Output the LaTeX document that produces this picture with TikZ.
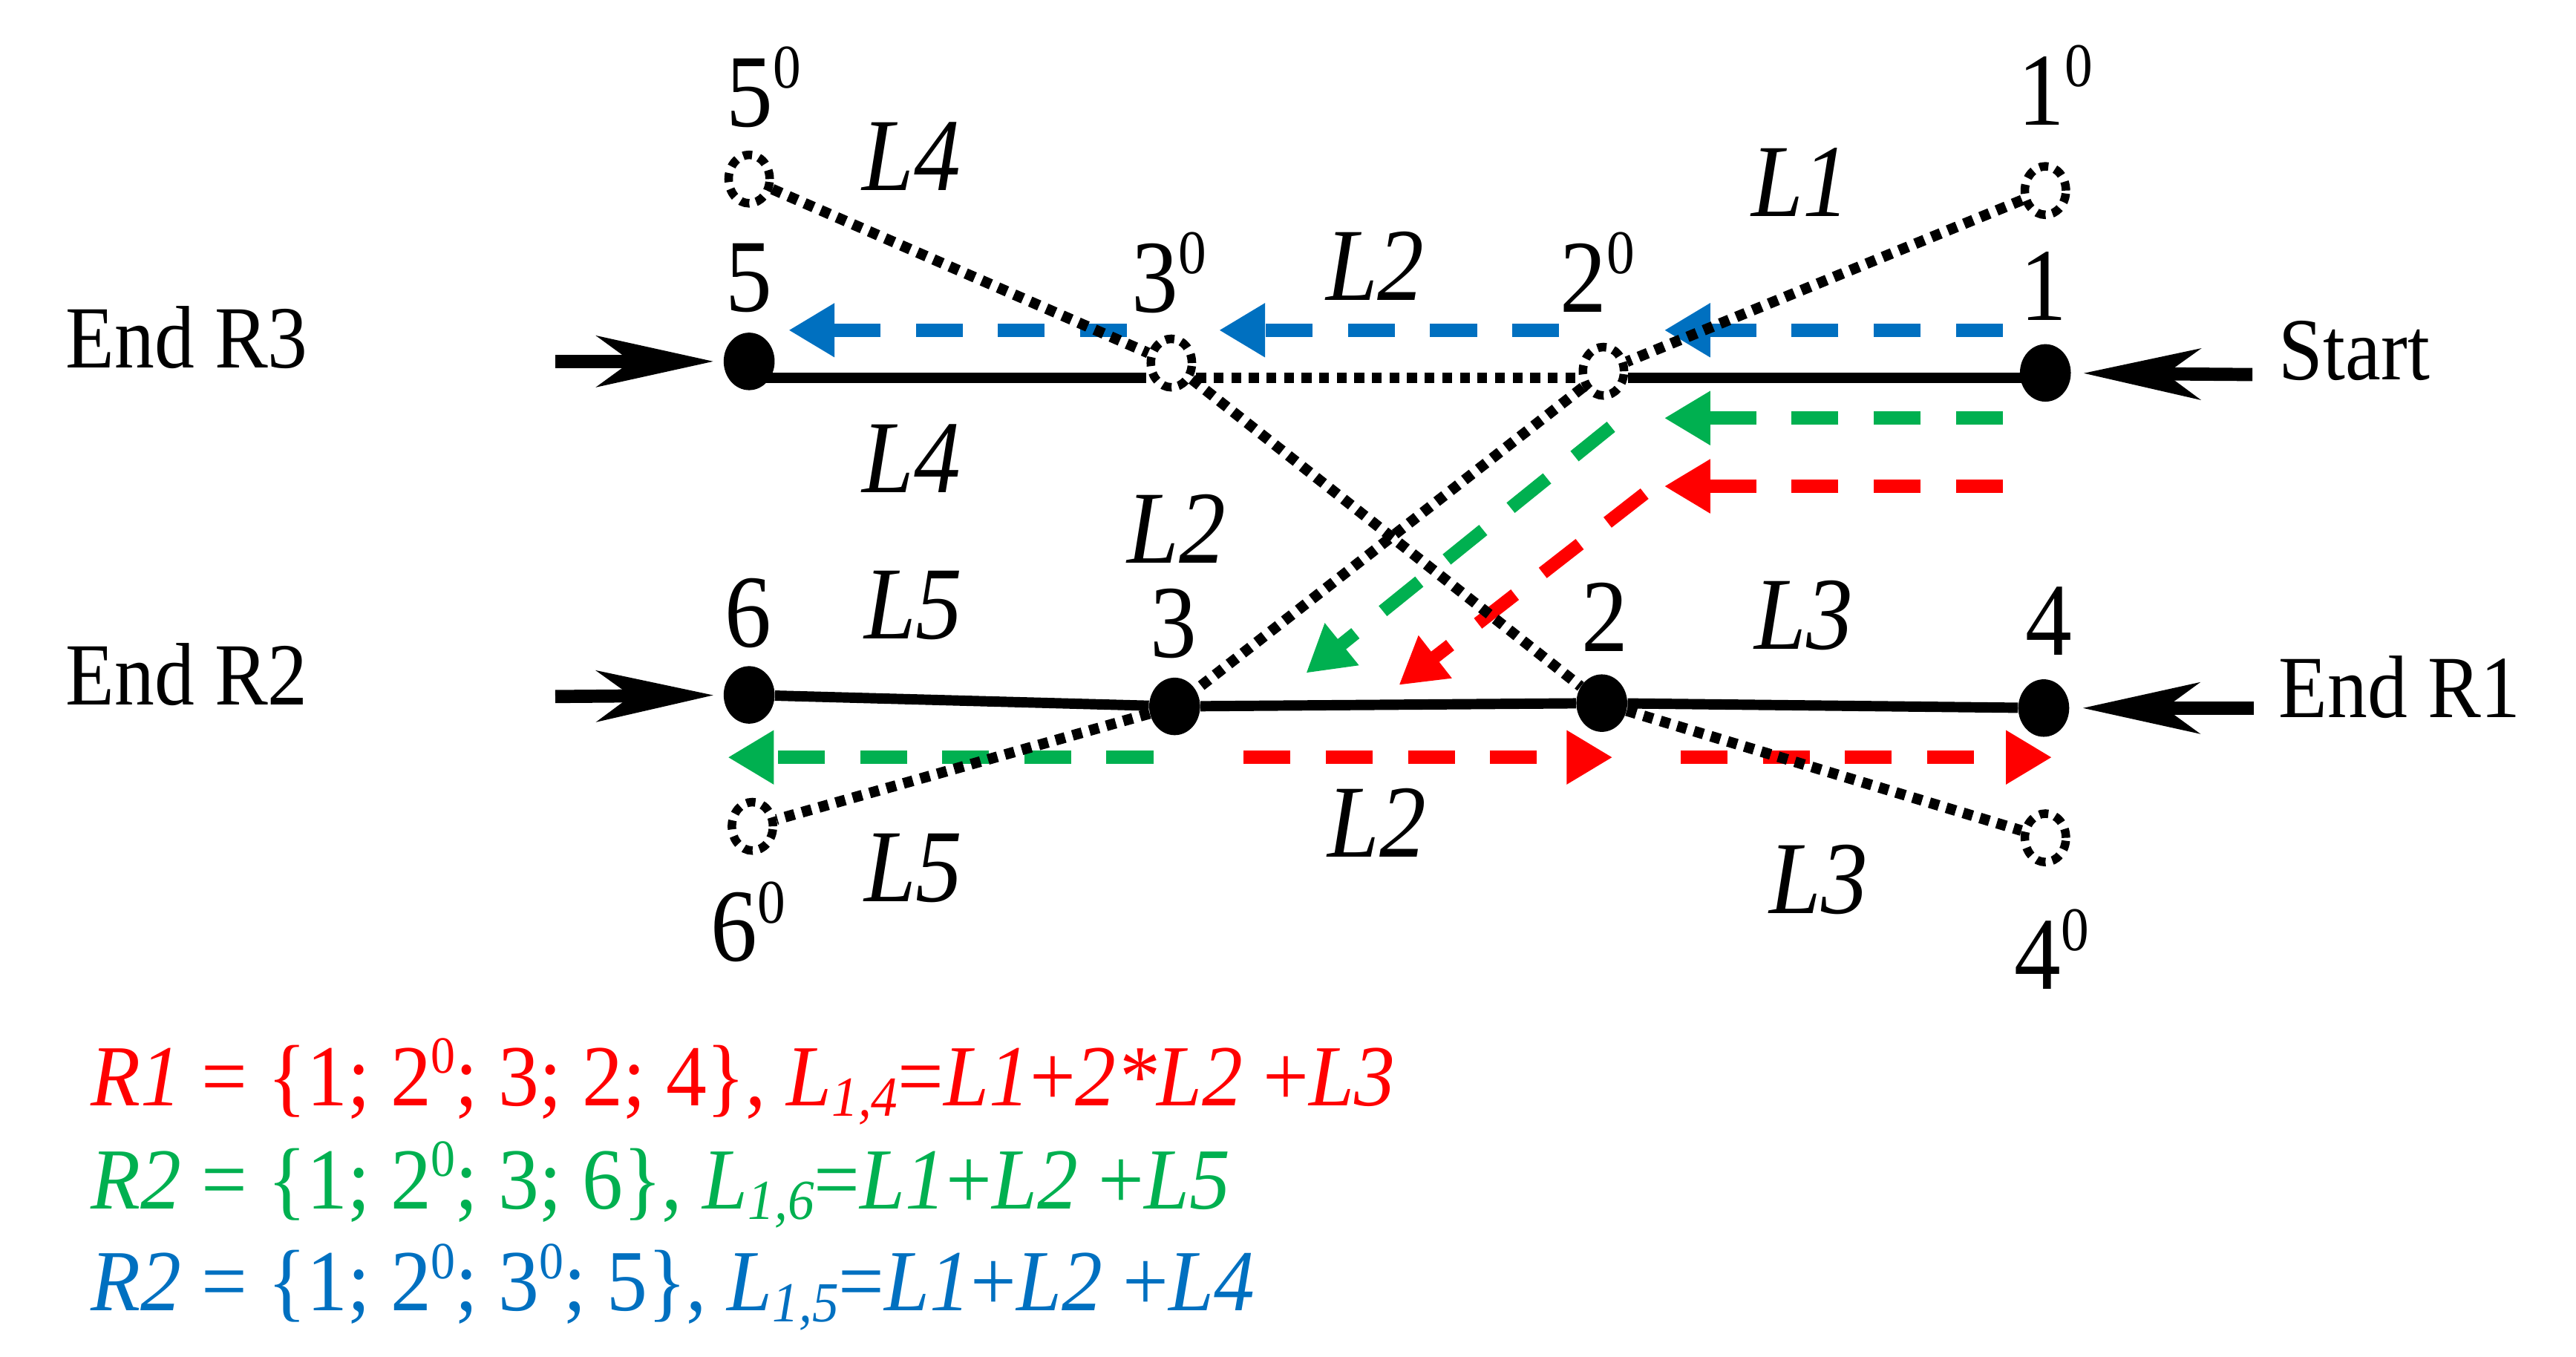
\documentclass[tikz,border=0pt]{standalone}
\usepackage{fontspec}
\setmainfont{Liberation Serif}[FakeStretch=0.9]
\newfontfamily\formfont{Liberation Serif}[FakeStretch=0.935]
\usetikzlibrary{arrows.meta,shapes.geometric,calc}
\definecolor{cred}{RGB}{255,0,0}
\definecolor{cgreen}{RGB}{0,176,80}
\definecolor{cblue}{RGB}{0,112,192}
\newcommand\zsup{\raisebox{0.37em}{\scalebox{0.6}{0}}}
\newcommand\lsub[1]{\raisebox{-0.12em}{\scalebox{0.65}{#1}}}
\begin{document}
\begin{tikzpicture}[x=1pt,y=-1pt,
  dot/.style={ellipse,fill=black,draw=none,minimum width=31pt,minimum height=35pt,inner sep=0pt},
  ghost/.style={ellipse,draw=black,line width=5.2pt,dash pattern=on 5.5pt off 4.3pt,minimum width=25pt,minimum height=29.5pt,inner sep=0pt},
  wire/.style={line width=6.3pt},
  dotwire/.style={line width=6.5pt,dash pattern=on 6pt off 4.7pt},
  route/.style={line width=8pt,dash pattern=on 28.5pt off 21.5pt,-{Triangle[length=28pt,width=31pt]}},
  endarrow/.style={line width=8pt,-{Stealth[length=71pt,width=31pt,inset=21pt]}},
  numlab/.style={anchor=base,inner sep=0pt,font=\fontsize{63}{70}\selectfont},
  llab/.style={anchor=base,inner sep=0pt,font=\fontsize{63}{70}\selectfont\itshape},
  sidelab/.style={anchor=base west,inner sep=0pt,font=\fontsize{54}{60}\selectfont},
  formula/.style={anchor=base west,inner sep=0pt,font=\formfont\fontsize{53}{60}\selectfont},
]
\useasboundingbox (0,0) rectangle (1568,826);

% route arrow end points
\coordinate (b1s) at (1219,201); \coordinate (b1e) at (1013,201);
\coordinate (b2s) at (949,201);  \coordinate (b2e) at (742,201);
\coordinate (b3s) at (686,201);  \coordinate (b3e) at (480,201);
\coordinate (g1s) at (1219,254.5); \coordinate (g1e) at (1013,254.5);
\coordinate (g2s) at (980.6,259.8); \coordinate (g2e) at (795,409.7);
\coordinate (g3s) at (702,461); \coordinate (g3e) at (443,461);
\coordinate (r1s) at (1219,296); \coordinate (r1e) at (1013,296);
\coordinate (r2s) at (1001,300.5); \coordinate (r2e) at (851.5,417);
\coordinate (r3s) at (757,461); \coordinate (r3e) at (981.6,461);
\coordinate (r4s) at (1023,461); \coordinate (r4e) at (1249,461);

\draw[route,cblue] (b1s) -- (b1e);
\draw[route,cblue] (b2s) -- (b2e);
\draw[route,cblue] (b3s) -- (b3e);
\draw[route,cgreen] (g1s) -- (g1e);
\draw[route,cgreen] (g2s) -- (g2e);
\draw[route,cgreen] (g3s) -- (g3e);
\draw[route,cred] (r1s) -- (r1e);
\draw[route,cred] (r2s) -- (r2e);
\draw[route,cred] (r3s) -- (r3e);
\draw[route,cred] (r4s) -- (r4e);

% nodes
\node[dot] (n5) at (456,220) {};
\node[ghost] (n3o) at (713,221) {};
\node[ghost] (n2o) at (976,226) {};
\node[dot] (n1) at (1245,227) {};
\node[ghost] (n5o) at (456,109) {};
\node[ghost] (n1o) at (1245,116) {};
\node[dot] (n6) at (456,423) {};
\node[dot] (n3) at (715,430) {};
\node[dot] (n2) at (975,428) {};
\node[dot] (n4) at (1244,431) {};
\node[ghost] (n6o) at (458,503) {};
\node[ghost] (n4o) at (1245,510) {};

% network lines
\draw[wire] ([yshift=-10pt]n5.center) -- ([yshift=-9pt]n3o.west);
\draw[dotwire] ([yshift=-9pt]n3o.east) -- ([yshift=-4pt]n2o.west);
\draw[wire] ([yshift=-4pt]n2o.east) -- ([yshift=-3pt]n1.center);
\draw[wire] (n6) -- (n3);
\draw[wire] (n3) -- (n2);
\draw[wire] (n2) -- (n4);
\draw[dotwire] (n5o) -- (n3o);
\draw[dotwire] (n1o) -- (n2o);
\draw[dotwire] (n2o) -- (n3);
\draw[dotwire] (n3o) -- (n2);
\draw[dotwire] (n3) -- (n6o);
\draw[dotwire] (n2) -- (n4o);

% end arrows
\coordinate (t3) at (338,220);
\coordinate (t2) at (338,424);
\coordinate (ts) at (1371,228);
\coordinate (t1) at (1372,431);
\draw[endarrow,shorten >=6pt] (t3) -- (n5);
\draw[endarrow,shorten >=6pt] (t2) -- (n6);
\draw[endarrow,shorten >=7.5pt] (ts) -- (n1);
\draw[endarrow,shorten >=8pt] (t1) -- (n4);

% node numbers
\node[numlab] (lab5o) at (465,77) {5\zsup};
\node[numlab] (lab5) at (456,189.5) {5};
\node[numlab] (lab3o) at (711.5,190) {3\zsup};
\node[numlab] (lab2o) at (972.5,190) {2\zsup};
\node[numlab] (lab1o) at (1251,76) {1\zsup};
\node[numlab] (lab1) at (1244,195) {1};
\node[numlab] (lab6) at (455.5,394) {6};
\node[numlab] (lab3) at (714.5,400) {3};
\node[numlab] (lab2) at (977,396.6) {2};
\node[numlab] (lab4) at (1247,399) {4};
\node[numlab] (lab6o) at (455.5,585) {6\zsup};
\node[numlab] (lab4o) at (1249,602) {4\zsup};

% length labels
\node[llab] (lL4a) at (555,116) {L4};
\node[llab] (lL4b) at (555,300) {L4};
\node[llab] (lL2a) at (837,183) {L2};
\node[llab] (lL1) at (1096,131.6) {L1};
\node[llab] (lL2b) at (716,342.6) {L2};
\node[llab] (lL5a) at (556,389) {L5};
\node[llab] (lL5b) at (556,549) {L5};
\node[llab] (lL3a) at (1098,395) {L3};
\node[llab] (lL3b) at (1107,556) {L3};
\node[llab] (lL2c) at (838,521.5) {L2};

% side labels
\node[sidelab] (endr3) at (40,224) {End R3};
\node[sidelab] (endr2) at (40,429) {End R2};
\node[sidelab] (start) at (1387,231) {Start};
\node[sidelab] (endr1) at (1387,436.6) {End R1};

% formulas
\node[formula,text=cred] (f1) at (55,673) {\textit{R1} = \{1; 2\zsup; 3; 2; 4\}, \textit{L\lsub{1,4}}=\textit{L1}+\textit{2*L2} +\textit{L3}};
\node[formula,text=cgreen] (f2) at (55,735.7) {\textit{R2} = \{1; 2\zsup; 3; 6\}, \textit{L\lsub{1,6}}=\textit{L1}+\textit{L2} +\textit{L5}};
\node[formula,text=cblue] (f3) at (55,798) {\textit{R2} = \{1; 2\zsup; 3\zsup; 5\}, \textit{L\lsub{1,5}}=\textit{L1}+\textit{L2} +\textit{L4}};
\end{tikzpicture}
\end{document}
